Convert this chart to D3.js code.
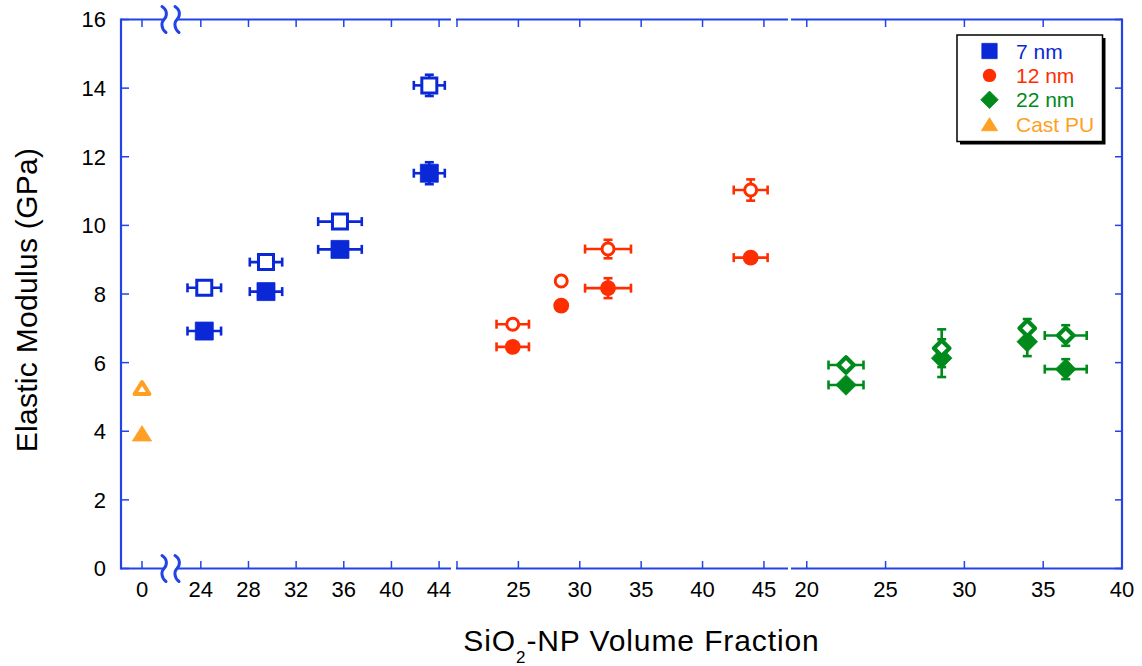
<!DOCTYPE html>
<html><head><meta charset="utf-8">
<script src="https://cdn.jsdelivr.net/npm/d3@7/dist/d3.min.js"></script>
<style>
html,body{margin:0;padding:0;background:#fff;}
svg text{font-family:"Liberation Sans",Arial,Helvetica,sans-serif;}
</style></head>
<body>
<svg id="chart" width="1142" height="666"></svg>
<script>
// ---------------- DATA ----------------
// 7 nm (blue squares), x in segment 1
const x7 = [24.29, 29.47, 35.68, 43.18];
const xerr7 = [1.41, 1.36, 1.83, 1.30];
const filled7 = [6.92, 8.07, 9.30, 11.52];
const filledErr7 = [0, 0, 0, 0.32];
const open7 = [8.18, 8.93, 10.11, 14.08];
const openErr7 = [0, 0, 0, 0.31];
// 12 nm (red circles), x in segment 2
const x12 = [24.54, 28.49, 32.30, 43.92];
const xerr12 = [1.32, 0, 1.87, 1.38];
const filled12 = [6.46, 7.66, 8.17, 9.06];
const filledErr12 = [0, 0, 0.29, 0];
const open12 = [7.12, 8.38, 9.31, 11.03];
const openErr12 = [0, 0, 0.27, 0.31];
// 22 nm (green diamonds), x in segment 3
const x22 = [22.49, 28.56, 33.99, 36.43];
const xerr22 = [1.11, 0, 0, 1.33];
const filled22 = [5.35, 6.13, 6.61, 5.81];
const filledErr22 = [0, 0.55, 0.42, 0.29];
const open22 = [5.93, 6.42, 7.00, 6.79];
const openErr22 = [0, 0.55, 0.27, 0.30];
// Cast PU (orange triangles), x = 0 in segment 1
const xPU = [0];
const filledPU = [3.94];
const openPU = [5.26];

const yTicks = [0, 2, 4, 6, 8, 10, 12, 14, 16];
const seg1Ticks = [0, 24, 28, 32, 36, 40, 44];
const seg2Ticks = [20, 25, 30, 35, 40, 45];
const seg2Labels = ["", "25", "30", "35", "40", "45"];
const seg3Ticks = [20, 25, 30, 35, 40];
const legendLabels = ["7 nm", "12 nm", "22 nm", "Cast PU"];

// ---------------- STYLE ----------------
const AX = "#2343e6";
const BLUE = "#0a28d6", RED = "#ff2e00", GREEN = "#008a1c", ORANGE = "#ffa024";
const legendColors = [BLUE, RED, GREEN, ORANGE];
const legendShapes = ["square", "circle", "diamond", "triangle"];

const svg = d3.select("#chart");
const yTop = 19.5, yBot = 568.5, xL = 121, xR = 1122;

const y = d3.scaleLinear().domain([0, 16]).range([yBot, yTop]);
const s1 = d3.scaleLinear().domain([-1.75, 1.75, 22, 45]).range([121, 163, 177, 451]);
const s2 = d3.scaleLinear().domain([20, 47]).range([457, 788.5]);
const s3 = d3.scaleLinear().domain([19, 40]).range([791, 1122]);

// ---------------- AXES FRAME ----------------
const frame = svg.append("g").attr("stroke", AX).attr("fill", "none");
const hSegs = [[121, 163], [177, 451], [456, 788], [791, 1122]];
[yTop, yBot].forEach(yy => {
  hSegs.forEach(([a, b]) => frame.append("line").attr("x1", a).attr("x2", b).attr("y1", yy).attr("y2", yy).attr("stroke-width", 2.2));
});
frame.append("line").attr("x1", xL).attr("x2", xL).attr("y1", yTop - 1).attr("y2", yBot + 1).attr("stroke-width", 2.2);
frame.append("line").attr("x1", xR).attr("x2", xR).attr("y1", yTop - 1).attr("y2", yBot + 1).attr("stroke-width", 2.2);

// break squiggles
[yTop, yBot].forEach(yy => {
  [164, 177].forEach(xx => {
    frame.append("path")
      .attr("d", `M${xx - 2},${yy - 13} C${xx + 4},${yy - 9} ${xx + 3},${yy - 3} ${xx},${yy} S${xx - 3},${yy + 9} ${xx + 2},${yy + 13}`)
      .attr("stroke-width", 3).attr("stroke-linecap", "round");
  });
});

// y ticks (both sides, inward)
const tk = svg.append("g").attr("stroke", AX).attr("stroke-width", 1.5);
yTicks.forEach(v => {
  tk.append("line").attr("x1", xL).attr("x2", xL + 8).attr("y1", y(v)).attr("y2", y(v));
  tk.append("line").attr("x1", xR).attr("x2", xR - 7).attr("y1", y(v)).attr("y2", y(v));
});
const xTickList = [];
seg1Ticks.forEach(v => xTickList.push({x: s1(v), label: String(v)}));
seg2Ticks.forEach((v, i) => xTickList.push({x: s2(v), label: seg2Labels[i]}));
seg3Ticks.forEach(v => xTickList.push({x: s3(v), label: String(v)}));
xTickList.forEach(t => {
  tk.append("line").attr("x1", t.x).attr("x2", t.x).attr("y1", yBot).attr("y2", yBot - 7.5);
  tk.append("line").attr("x1", t.x).attr("x2", t.x).attr("y1", yTop).attr("y2", yTop + 7.5);
});

// tick labels
svg.append("g").selectAll("text").data(yTicks).join("text")
  .attr("x", 106).attr("y", d => y(d)).attr("dy", "0.36em")
  .attr("text-anchor", "end").attr("font-size", 22).attr("fill", "#000").text(d => d);
svg.append("g").selectAll("text").data(xTickList.filter(t => t.label)).join("text")
  .attr("x", d => d.x).attr("y", 597).attr("text-anchor", "middle")
  .attr("font-size", 22).attr("fill", "#000").text(d => d.label);

// axis titles
svg.append("text").attr("transform", "translate(36.5,300) rotate(-90)")
  .attr("text-anchor", "middle").attr("font-size", 30).attr("letter-spacing", 0.3).attr("fill", "#000")
  .text("Elastic Modulus (GPa)");
const xt = svg.append("text").attr("x", 641.5).attr("y", 651).attr("text-anchor", "middle")
  .attr("font-size", 30).attr("letter-spacing", 0.9).attr("fill", "#000");
xt.append("tspan").text("SiO");
xt.append("tspan").attr("font-size", 17).attr("dy", 12).text("2");
xt.append("tspan").attr("dy", -12).text("-NP Volume Fraction");

// ---------------- MARKERS ----------------
function shapePath(shape, r) {
  if (shape === "square") return `M${-r},${-r}H${r}V${r}H${-r}Z`;
  if (shape === "diamond") return `M0,${-r}L${r},0L0,${r}L${-r},0Z`;
  if (shape === "triangle") return `M0,${-r * 0.8}L${r},${r * 0.8}L${-r},${r * 0.8}Z`;
  return null;
}
function marker(g, shape, cx, cy, color, open, scale) {
  const k = scale || 1;
  if (shape === "circle") {
    if (open) g.append("circle").attr("cx", cx).attr("cy", cy).attr("r", 6 * k).attr("fill", "#fff").attr("stroke", color).attr("stroke-width", 3);
    else g.append("circle").attr("cx", cx).attr("cy", cy).attr("r", 7.9 * k).attr("fill", color);
    return;
  }
  let r, sw;
  if (shape === "square") { r = open ? 7.5 : 9; sw = 3; }
  if (shape === "diamond") { r = open ? 7.8 : 10.3; sw = 4.2; }
  if (shape === "triangle") { r = open ? 7.4 : 9.6; sw = 4; }
  const p = g.append("path").attr("d", shapePath(shape, r * k)).attr("transform", `translate(${cx},${cy})`);
  if (open) p.attr("fill", "#fff").attr("stroke", color).attr("stroke-width", sw).attr("stroke-linejoin", shape === "square" ? "miter" : "round");
  else p.attr("fill", color).attr("stroke", color).attr("stroke-width", 0.8).attr("stroke-linejoin", "round");
}
function errorBars(g, sx, xs, xerr, ys, yerr, color) {
  xs.forEach((xv, i) => {
    const cx = sx(xv), cy = y(ys[i]);
    if (xerr[i] > 0) {
      const a = sx(xv - xerr[i]), b = sx(xv + xerr[i]);
      g.append("line").attr("x1", a).attr("x2", b).attr("y1", cy).attr("y2", cy).attr("stroke", color).attr("stroke-width", 2.6);
      [a, b].forEach(e => g.append("line").attr("x1", e).attr("x2", e).attr("y1", cy - 4.5).attr("y2", cy + 4.5).attr("stroke", color).attr("stroke-width", 2.6));
    }
    if (yerr[i] > 0) {
      const a = y(ys[i] - yerr[i]), b = y(ys[i] + yerr[i]);
      g.append("line").attr("x1", cx).attr("x2", cx).attr("y1", a).attr("y2", b).attr("stroke", color).attr("stroke-width", 2.6);
      [a, b].forEach(e => g.append("line").attr("x1", cx - 4.5).attr("x2", cx + 4.5).attr("y1", e).attr("y2", e).attr("stroke", color).attr("stroke-width", 2.6));
    }
  });
}
function series(sx, xs, xerr, filled, fErr, open, oErr, shape, color) {
  const g = svg.append("g");
  errorBars(g, sx, xs, xerr, filled, fErr, color);
  xs.forEach((xv, i) => marker(g, shape, sx(xv), y(filled[i]), color, false));
  const g2 = svg.append("g");
  errorBars(g2, sx, xs, xerr, open, oErr, color);
  xs.forEach((xv, i) => marker(g2, shape, sx(xv), y(open[i]), color, true));
}
series(s1, x7, xerr7, filled7, filledErr7, open7, openErr7, "square", BLUE);
series(s2, x12, xerr12, filled12, filledErr12, open12, openErr12, "circle", RED);
series(s3, x22, xerr22, filled22, filledErr22, open22, openErr22, "diamond", GREEN);
series(s1, xPU, [0], filledPU, [0], openPU, [0], "triangle", ORANGE);

// ---------------- LEGEND ----------------
const lg = svg.append("g");
lg.append("rect").attr("x", 960).attr("y", 38).attr("width", 145.5).attr("height", 106.5).attr("fill", "#000");
lg.append("rect").attr("x", 957).attr("y", 35).attr("width", 145.5).attr("height", 106.5).attr("fill", "#fff").attr("stroke", "#000").attr("stroke-width", 1.5);
legendLabels.forEach((lab, i) => {
  const cy = 51 + i * 24.4;
  marker(lg, legendShapes[i], 989.5, cy, legendColors[i], false, 0.85);
  lg.append("text").attr("x", 1016).attr("y", cy + 7.6).attr("font-size", 21).attr("fill", legendColors[i]).text(lab);
});
</script>
</body></html>
